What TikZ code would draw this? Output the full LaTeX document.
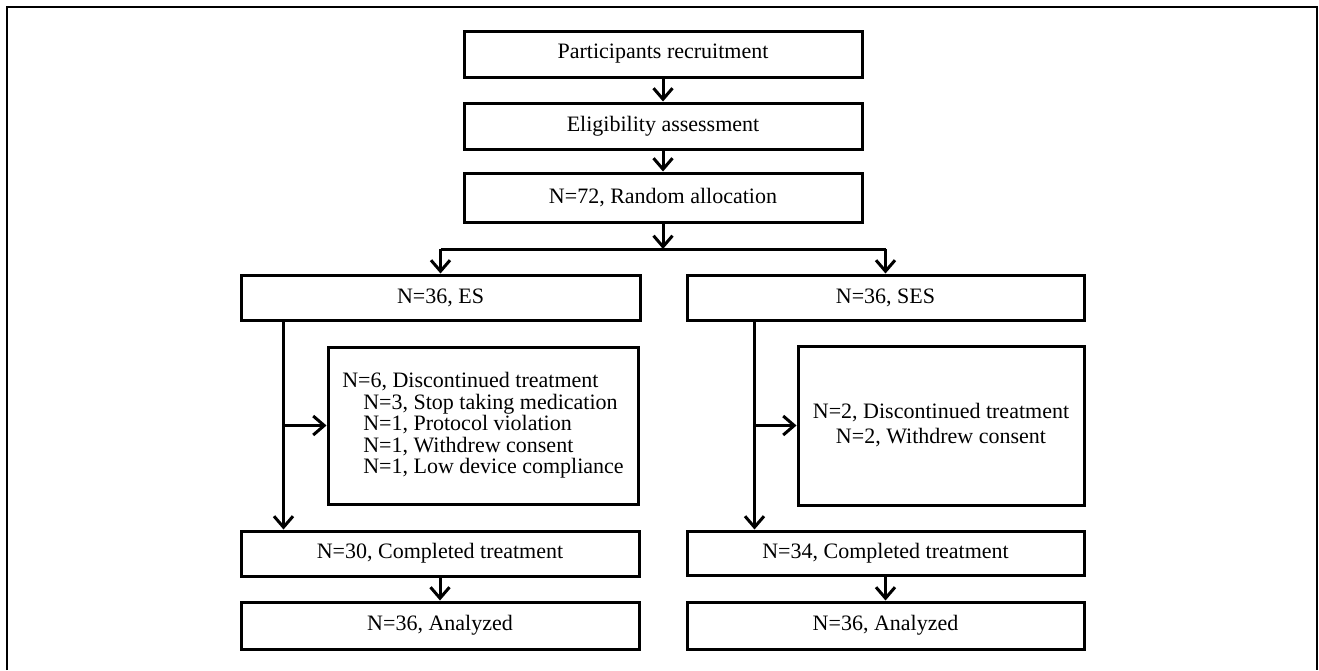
\documentclass[tikz,border=0pt]{standalone}
\usepackage{fontspec}
\setmainfont{Liberation Serif}
\usetikzlibrary{arrows.meta}
\begin{document}
\begin{tikzpicture}[x=1pt,y=-1pt,
  box/.style={draw, line width=3pt, inner sep=0pt, align=center, font=\fontsize{22}{22}\selectfont},
  arr/.style={line width=3pt, -{Straight Barb[length=11pt,width=19pt]}},
  ln/.style={line width=3pt}]
\useasboundingbox (0,0) rectangle (1319,670);
\draw[line width=2pt] (6.5,670) -- (6.5,6.5) -- (1316.5,6.5) -- (1316.5,670);
% top column
\node[box, minimum width=398pt, minimum height=46pt] (rec) at (663,54) {Participants recruitment};
\node[box, minimum width=398pt, minimum height=46pt] (eli) at (663,126) {Eligibility assessment};
\node[box, minimum width=398pt, minimum height=49pt] (ran) at (663,197.5) {N=72, Random allocation};
% groups
\node[box, minimum width=399pt, minimum height=45pt] (es) at (440.5,297.5) {N=36, ES};
\node[box, minimum width=397pt, minimum height=45pt] (ses) at (885.5,297.5) {N=36, SES};
% dropouts
\node[box, minimum width=310pt, minimum height=157pt, align=left,
      font=\fontsize{22}{21.5}\selectfont] (d1) at (483,425.5)
  {N=6, Discontinued treatment\\
   \hspace*{21pt}N=3, Stop taking medication\\
   \hspace*{21pt}N=1, Protocol violation\\
   \hspace*{21pt}N=1, Withdrew consent\\
   \hspace*{21pt}N=1, Low device compliance};
\node[box, minimum width=286pt, minimum height=159pt,
      font=\fontsize{22}{25}\selectfont] (d2) at (941,425.5)
  {N=2, Discontinued treatment\\N=2, Withdrew consent};
% completed
\node[box, minimum width=398pt, minimum height=45pt] (ces) at (440,553.5) {N=30, Completed treatment};
\node[box, minimum width=397pt, minimum height=44pt] (cses) at (885.5,553) {N=34, Completed treatment};
% analyzed
\node[box, minimum width=398pt, minimum height=47pt] (aes) at (440,625.5) {N=36, Analyzed};
\node[box, minimum width=397pt, minimum height=47pt] (ases) at (885.5,625.5) {N=36, Analyzed};
% connectors
\coordinate (split) at (663,249);
\coordinate (sl) at (es.north |- split);
\coordinate (sr) at (ses.north |- split);
\coordinate (lv) at ([xshift=44pt]es.south west);
\coordinate (rv) at ([xshift=69pt]ses.south west);
\draw[arr] (rec) -- (eli);
\draw[arr] (eli) -- (ran);
\draw[arr] (ran) -- (split);
\draw[ln] (sl) -- (sr);
\draw[arr] (sl) -- (es);
\draw[arr] (sr) -- (ses);
\draw[arr] (lv) -- (lv |- ces.north);
\draw[arr] (lv |- d1.west) -- (d1.west);
\draw[arr] (rv) -- (rv |- cses.north);
\draw[arr] (rv |- d2.west) -- (d2.west);
\draw[arr] (ces) -- (aes);
\draw[arr] (cses) -- (ases);
\end{tikzpicture}
\end{document}
